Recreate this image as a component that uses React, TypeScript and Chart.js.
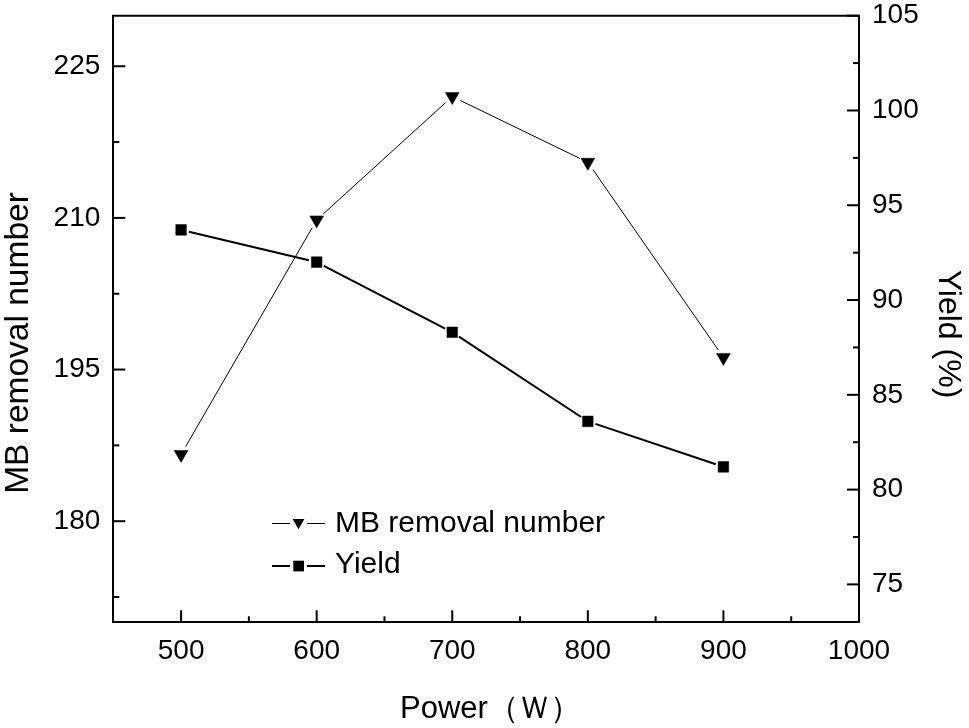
import React, { useEffect, useRef } from "react";
import { Chart, registerables } from "chart.js";

Chart.register(...registerables);

const powers = [500, 600, 700, 800, 900];
const mbRemoval = [186.6, 209.8, 222.0, 215.5, 196.2];
const yieldPct = [93.7, 92.0, 88.3, 83.6, 81.2];

const xTicks = [500, 600, 700, 800, 900, 1000];
const xMinor = [550, 650, 750, 850, 950];
const leftTicks = [180, 195, 210, 225];
const leftMinor = [172.5, 187.5, 202.5, 217.5];
const rightTicks = [75, 80, 85, 90, 95, 100, 105];
const rightMinor = [77.5, 82.5, 87.5, 92.5, 97.5, 102.5];

const seriesNames = ["MB removal number", "Yield"];
const xTitle = "Power\uFF08\uFF37\uFF09";
const yTitle = "MB removal number";
const y1Title = "Yield (%)";

const FONT = "'Liberation Sans', Arial, sans-serif";
const lineWidths = [1, 2];
const gaps = [9, 8];

const gapLines = {
  id: "gapLines",
  beforeDatasetsDraw(chart: any) {
    const ctx = chart.ctx;
    chart.data.datasets.forEach((_ds: any, i: number) => {
      const pts = chart.getDatasetMeta(i).data;
      ctx.save();
      ctx.strokeStyle = "#000";
      ctx.lineWidth = lineWidths[i];
      for (let k = 0; k < pts.length - 1; k++) {
        const a = pts[k];
        const b = pts[k + 1];
        const dx = b.x - a.x;
        const dy = b.y - a.y;
        const L = Math.hypot(dx, dy);
        const g = gaps[i];
        if (L <= 2 * g) continue;
        ctx.beginPath();
        ctx.moveTo(a.x + (dx / L) * g, a.y + (dy / L) * g);
        ctx.lineTo(b.x - (dx / L) * g, b.y - (dy / L) * g);
        ctx.stroke();
      }
      ctx.restore();
    });
  },
};

const decor = {
  id: "decor",
  afterDraw(chart: any) {
    const ctx = chart.ctx;
    const { left, right, top, bottom } = chart.chartArea;
    const sx = chart.scales.x;
    const sy = chart.scales.y;
    const sy1 = chart.scales.y1;
    ctx.save();
    ctx.strokeStyle = "#000";
    ctx.fillStyle = "#000";
    ctx.lineWidth = 2;
    const seg = (x1: number, y1: number, x2: number, y2: number) => {
      ctx.beginPath();
      ctx.moveTo(x1, y1);
      ctx.lineTo(x2, y2);
      ctx.stroke();
    };
    // top frame line
    seg(left - 1, top, right + 1, top);
    // inward ticks
    xTicks.forEach((v) => {
      const p = sx.getPixelForValue(v);
      seg(p, bottom, p, bottom - 12);
    });
    xMinor.forEach((v) => {
      const p = sx.getPixelForValue(v);
      seg(p, bottom, p, bottom - 6);
    });
    leftTicks.forEach((v) => {
      const p = sy.getPixelForValue(v);
      seg(left, p, left + 12, p);
    });
    leftMinor.forEach((v) => {
      const p = sy.getPixelForValue(v);
      seg(left, p, left + 6, p);
    });
    rightTicks.forEach((v) => {
      const p = sy1.getPixelForValue(v);
      seg(right, p, right - 12, p);
    });
    rightMinor.forEach((v) => {
      const p = sy1.getPixelForValue(v);
      seg(right, p, right - 6, p);
    });

    // axis titles
    ctx.textAlign = "left";
    ctx.textBaseline = "alphabetic";
    ctx.font = `31px ${FONT}`;
    ctx.fillText(xTitle, 400, 718);

    ctx.save();
    ctx.translate(28, 343);
    ctx.rotate(-Math.PI / 2);
    ctx.textAlign = "center";
    ctx.font = `33.5px ${FONT}`;
    ctx.fillText(yTitle, 0, 0);
    ctx.restore();

    ctx.save();
    ctx.translate(939, 334);
    ctx.rotate(Math.PI / 2);
    ctx.textAlign = "center";
    ctx.font = `32px ${FONT}`;
    ctx.fillText(y1Title, 0, 0);
    ctx.restore();

    // legend
    const legendRows = [523.5, 566];
    const legendText = [532, 573];
    legendRows.forEach((ly, i) => {
      ctx.lineWidth = lineWidths[i];
      seg(272, ly, 290, ly);
      seg(307, ly, 325, ly);
      if (i === 0) {
        const r = 6.8;
        const cy = ly - 1;
        ctx.beginPath();
        ctx.moveTo(298.5, cy + r);
        ctx.lineTo(298.5 - 0.866 * r, cy - 0.5 * r);
        ctx.lineTo(298.5 + 0.866 * r, cy - 0.5 * r);
        ctx.closePath();
        ctx.fill();
      } else {
        ctx.fillRect(293.3, ly - 5.3, 10.7, 10.7);
      }
      ctx.font = `30px ${FONT}`;
      ctx.textAlign = "left";
      ctx.textBaseline = "alphabetic";
      ctx.fillText(seriesNames[i], 335, legendText[i]);
    });
    ctx.restore();
  },
};

const noPad = (s: any) => {
  s.paddingTop = 0;
  s.paddingBottom = 0;
  s.paddingLeft = 0;
  s.paddingRight = 0;
};

export default function App() {
  const ref = useRef<HTMLCanvasElement | null>(null);
  useEffect(() => {
    if (!ref.current) return;
    const tickFont = { family: FONT, size: 28 };
    const plain = (v: any) => String(v);
    const chart = new Chart(ref.current, {
      type: "line",
      data: {
        datasets: [
          {
            label: seriesNames[0],
            data: powers.map((x, i) => ({ x, y: mbRemoval[i] })),
            yAxisID: "y",
            showLine: false,
            pointStyle: "triangle",
            rotation: 180,
            pointRadius: 8,
            pointBackgroundColor: "#000",
            pointBorderColor: "#000",
            pointBorderWidth: 0.5,
            borderColor: "#000",
          },
          {
            label: seriesNames[1],
            data: powers.map((x, i) => ({ x, y: yieldPct[i] })),
            yAxisID: "y1",
            showLine: false,
            pointStyle: "rect",
            pointRadius: 7.5,
            pointBackgroundColor: "#000",
            pointBorderColor: "#000",
            pointBorderWidth: 0.5,
            borderColor: "#000",
          },
        ],
      },
      options: {
        animation: false,
        responsive: true,
        maintainAspectRatio: false,
        layout: { padding: { top: 15.7, left: 0, right: 0, bottom: 0 } },
        plugins: { legend: { display: false }, tooltip: { enabled: false } },
        scales: {
          x: {
            type: "linear",
            min: 450,
            max: 1000,
            afterBuildTicks: (s: any) => {
              s.ticks = xTicks.map((v) => ({ value: v }));
            },
            afterFit: (s: any) => {
              s.height = 105.7;
              noPad(s);
            },
            grid: { display: true, drawOnChartArea: false, drawTicks: false },
            border: { display: true, color: "#000", width: 2 },
            ticks: { font: tickFont, color: "#000", padding: 12, maxRotation: 0, autoSkip: false, callback: plain },
          },
          y: {
            type: "linear",
            position: "left",
            min: 170,
            max: 230,
            afterBuildTicks: (s: any) => {
              s.ticks = leftTicks.map((v) => ({ value: v }));
            },
            afterFit: (s: any) => {
              s.width = 113.3;
              noPad(s);
            },
            grid: { display: true, drawOnChartArea: false, drawTicks: false },
            border: { display: true, color: "#000", width: 2 },
            ticks: { font: tickFont, color: "#000", padding: 13, callback: plain },
          },
          y1: {
            type: "linear",
            position: "right",
            min: 73,
            max: 105,
            afterBuildTicks: (s: any) => {
              s.ticks = rightTicks.map((v) => ({ value: v }));
            },
            afterFit: (s: any) => {
              s.width = 110;
              noPad(s);
            },
            grid: { display: true, drawOnChartArea: false, drawTicks: false },
            border: { display: true, color: "#000", width: 2 },
            ticks: { font: tickFont, color: "#000", padding: 13, callback: plain },
          },
        },
      },
      plugins: [gapLines, decor],
    });
    return () => chart.destroy();
  }, []);
  return (
    <div style={{ position: "absolute", left: 0, top: 0, width: 969, height: 728, background: "#fff" }}>
      <canvas ref={ref} />
    </div>
  );
}
